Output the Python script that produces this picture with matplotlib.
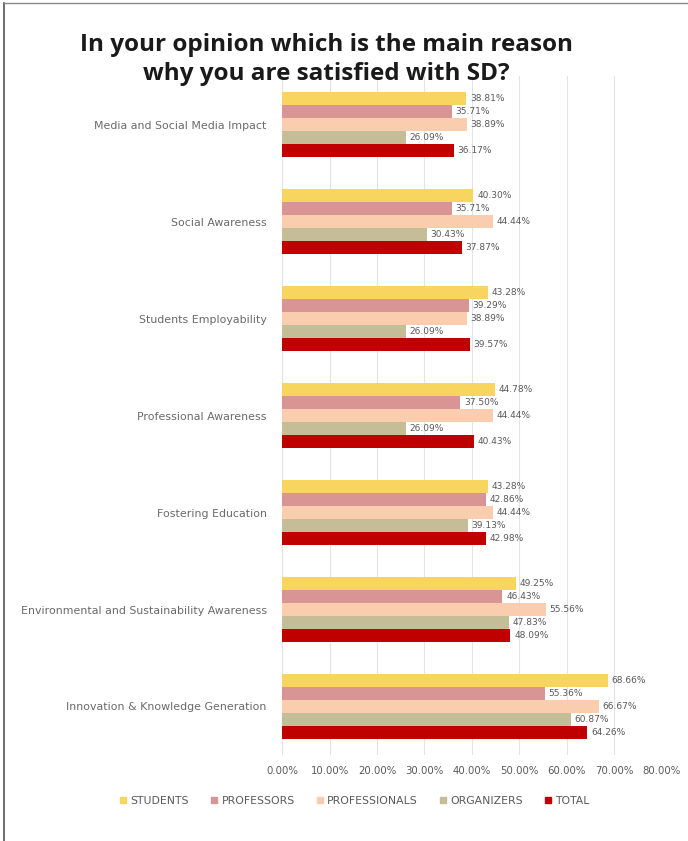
import matplotlib.pyplot as plt
import numpy as np
from matplotlib.lines import Line2D

categories = ['Media and Social Media Impact', 'Social Awareness', 'Students Employability',
              'Professional Awareness', 'Fostering Education',
              'Environmental and Sustainability Awareness', 'Innovation & Knowledge Generation']
students = [38.81, 40.30, 43.28, 44.78, 43.28, 49.25, 68.66]
professors = [35.71, 35.71, 39.29, 37.50, 42.86, 46.43, 55.36]
professionals = [38.89, 44.44, 38.89, 44.44, 44.44, 55.56, 66.67]
organizers = [26.09, 30.43, 26.09, 26.09, 39.13, 47.83, 60.87]
total = [36.17, 37.87, 39.57, 40.43, 42.98, 48.09, 64.26]

series = ['STUDENTS', 'PROFESSORS', 'PROFESSIONALS', 'ORGANIZERS', 'TOTAL']
colors = ['#F7D55E', '#D99594', '#F9CDAE', '#C4BD97', '#C00000']
values = [students, professors, professionals, organizers, total]

fig = plt.figure(figsize=(6.88, 8.41), dpi=100)
ax = fig.add_axes([0.41, 0.1023, 0.552, 0.807])

y = np.arange(len(categories))
h = 0.134
for i, (name, vals, c) in enumerate(zip(series, values, colors)):
    pos = y - 2 * h + i * h
    ax.barh(pos, vals, height=h, color=c, label=name, zorder=2)
    for p, v in zip(pos, vals):
        ax.text(v + 0.8, p, f'{v:.2f}%', va='center', ha='left',
                fontsize=6.5, color='#595959', zorder=3)

ax.set_xlim(0, 80)
ax.set_ylim(6.5, -0.5)
ax.set_xticks(np.arange(0, 81, 10))
ax.set_xticklabels([f'{t:.2f}%' for t in np.arange(0, 81, 10)], fontsize=7.3, color='#595959')
ax.set_yticks(y)
ax.set_yticklabels(categories, fontsize=7.9, color='#6a6a6a')
ax.tick_params(length=0, pad=8)
ax.tick_params(axis='y', pad=11)
ax.xaxis.grid(True, color='#E3E3E3', linewidth=0.8, zorder=0)
for s in ax.spines.values():
    s.set_visible(False)

fig.text(0.475, 0.929, 'In your opinion which is the main reason\nwhy you are satisfied with SD?',
         ha='center', va='center', fontsize=17.5, fontweight='bold', family='Open Sans',
         linespacing=1.3, color='#1a1a1a')

handles = [Line2D([], [], marker='s', linestyle='', markersize=5, color=c) for c in colors]
fig.legend(handles, series, loc='center', bbox_to_anchor=(0.514, 0.048), ncol=5,
           frameon=False, fontsize=7.8, labelcolor='#595959', handletextpad=0.2,
           columnspacing=1.8, handlelength=1.0)

# outer frame lines
fig.add_artist(Line2D([0.006, 0.006], [0, 0.996], color='#555555', linewidth=1.2))
fig.add_artist(Line2D([0.006, 1], [0.996, 0.996], color='#888888', linewidth=1.0))

fig.savefig('out.png', dpi=100)
